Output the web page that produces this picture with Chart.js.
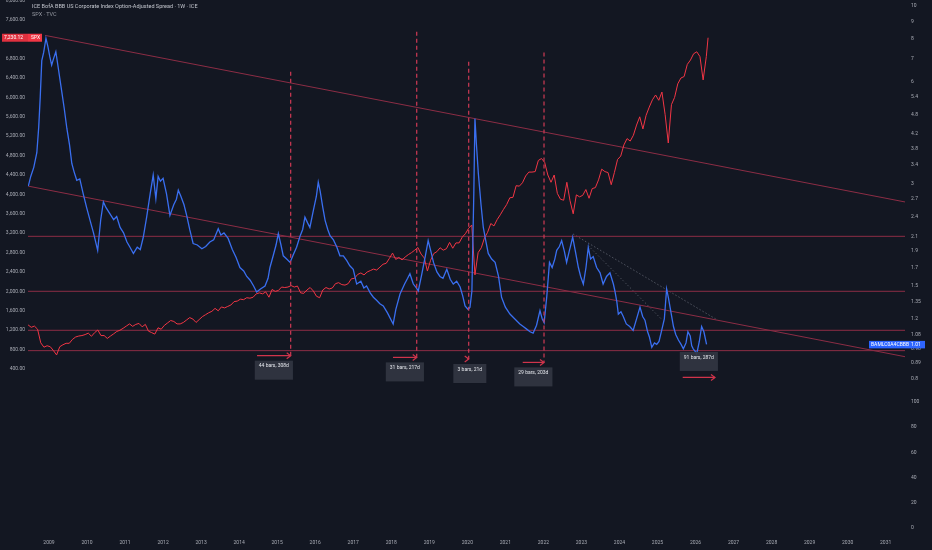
<!DOCTYPE html>
<html>
<head>
<meta charset="utf-8">
<script src="https://cdn.jsdelivr.net/npm/chart.js@4.4.1/dist/chart.umd.min.js"></script>
<style>
  html, body { margin: 0; padding: 0; background: #131722; }
  #wrap { position: relative; width: 932px; height: 550px; overflow: hidden; }
  #top { position: absolute; left: 0; top: 0; }
  #bottom { position: absolute; left: 0; top: 389px; }
</style>
</head>
<body>
<div id="wrap">
  <canvas id="top" width="932" height="389"></canvas>
  <canvas id="bottom" width="932" height="161"></canvas>
</div>
<script>
// ---------------------------------------------------------------------------
// Data
// ---------------------------------------------------------------------------
const X_MIN = 2008.448;
const X_MAX = 2031.508;

const yearTicks = [2009, 2010, 2011, 2012, 2013, 2014, 2015, 2016, 2017, 2018, 2019, 2020,
    2021, 2022, 2023, 2024, 2025, 2026, 2027, 2028, 2029, 2030, 2031];
const spxTicks = [400, 800, 1200, 1600, 2000, 2400, 2800, 3200, 3600, 4000, 4400, 4800,
    5200, 5600, 6000, 6400, 6800, 7200, 7600, 8000];
const oasTicks = [0.8, 0.89, 0.98, 1.08, 1.2, 1.35, 1.5, 1.7, 1.9, 2.1, 2.4, 2.7, 3, 3.4,
    3.8, 4.2, 4.8, 5.4, 6, 7, 8, 9, 10];
const paneTicks = [0, 20, 40, 60, 80, 100];

// SPX, one value per month from June 2008
const spxStart = 2008.45;
const spxMonthly = [
    1310, 1260, 1285, 1220, 940, 850, 880,
    860, 780, 690, 860, 900, 930, 930, 1010, 1060, 1080, 1090, 1110,
    1140, 1075, 1150, 1205, 1090, 1090, 1030, 1080, 1125, 1175, 1200, 1240,
    1285, 1330, 1280, 1320, 1340, 1270, 1320, 1180, 1150, 1120, 1250, 1220,
    1300, 1350, 1400, 1380, 1330, 1330, 1360, 1410, 1460, 1430, 1360, 1420,
    1480, 1520, 1560, 1590, 1650, 1600, 1680, 1660, 1690, 1720, 1790, 1800,
    1840, 1830, 1870, 1860, 1880, 1950, 1970, 1950, 1990, 1880, 2040, 2000,
    2020, 2090, 2080, 2090, 2120, 2090, 2110, 1970, 1960, 2030, 2080, 2010,
    1900, 1870, 2030, 2080, 2050, 2070, 2160, 2180, 2140, 2130, 2160, 2260,
    2270, 2350, 2380, 2340, 2400, 2430, 2460, 2440, 2500, 2560, 2580, 2680,
    2790, 2660, 2700, 2650, 2710, 2760, 2800, 2850, 2905, 2770, 2690, 2420,
    2640, 2780, 2820, 2900, 2850, 2880, 3010, 2890, 3000, 3000, 3120, 3190,
    3300, 3370, 2340, 2800, 2900, 3100, 3220, 3400, 3350, 3480, 3580, 3690,
    3790, 3930, 3940, 4180, 4170, 4240, 4380, 4460, 4460, 4470, 4700, 4740,
    4660, 4400, 4250, 4400, 4020, 3900, 3880, 4250, 3870, 3600, 3990, 3950,
    3980, 4100, 3920, 4120, 4140, 4300, 4520, 4470, 4450, 4200, 4450, 4720,
    4790, 5020, 5150, 5100, 5220, 5430, 5600, 5350, 5630, 5800, 5950, 6050,
    5940, 6110, 5650, 5060, 5850, 6000, 6280, 6400, 6430, 6680, 6770, 6900,
    6940, 6840, 6360, 6840
];
const spxLast = [2026.33, 7230.12];

// ICE BofA BBB OAS (%)
const oasDates = [
    2008.456, 2008.52, 2008.60, 2008.68, 2008.73, 2008.77, 2008.81, 2008.86, 2008.92, 2008.97,
    2009.02, 2009.07, 2009.12, 2009.18, 2009.25, 2009.33, 2009.40, 2009.47, 2009.54, 2009.60,
    2009.66, 2009.73, 2009.81, 2009.90, 2009.99, 2010.08, 2010.17, 2010.28, 2010.36, 2010.43,
    2010.50, 2010.60, 2010.70, 2010.78, 2010.87, 2010.96, 2011.05, 2011.13, 2011.22, 2011.32,
    2011.40, 2011.48, 2011.57, 2011.66, 2011.74, 2011.81, 2011.87, 2011.93, 2012.00, 2012.09,
    2012.18, 2012.28, 2012.35, 2012.40, 2012.47, 2012.55, 2012.62, 2012.70, 2012.79, 2012.90,
    2013.02, 2013.12, 2013.23, 2013.33, 2013.45, 2013.52, 2013.60, 2013.71, 2013.82, 2013.92,
    2014.02, 2014.12, 2014.20, 2014.29, 2014.38, 2014.46, 2014.56, 2014.68, 2014.76, 2014.81,
    2014.90, 2014.97, 2015.03, 2015.10, 2015.16, 2015.25, 2015.34, 2015.42, 2015.51, 2015.60,
    2015.67, 2015.73, 2015.80, 2015.86, 2015.95, 2016.03, 2016.08, 2016.13, 2016.20, 2016.26,
    2016.33, 2016.39, 2016.48, 2016.57, 2016.65, 2016.74, 2016.83, 2016.91, 2017.00, 2017.09,
    2017.20, 2017.28, 2017.35, 2017.45, 2017.53, 2017.62, 2017.70, 2017.79, 2017.90, 2018.05,
    2018.12, 2018.23, 2018.35, 2018.43, 2018.49, 2018.58, 2018.66, 2018.71, 2018.80, 2018.90,
    2018.97, 2019.04, 2019.11, 2019.20, 2019.28, 2019.36, 2019.46, 2019.55, 2019.63, 2019.72,
    2019.81, 2019.88, 2019.94, 2020.02, 2020.07, 2020.12, 2020.17, 2020.20, 2020.24, 2020.29,
    2020.36, 2020.42, 2020.48, 2020.55, 2020.64, 2020.73, 2020.82, 2020.90, 2021.00, 2021.12,
    2021.25, 2021.38, 2021.47, 2021.56, 2021.65, 2021.73, 2021.82, 2021.91, 2021.97, 2022.02,
    2022.09, 2022.16, 2022.23, 2022.30, 2022.35, 2022.42, 2022.48, 2022.55, 2022.61, 2022.68,
    2022.73, 2022.77, 2022.84, 2022.92, 2022.98, 2023.05, 2023.12, 2023.18, 2023.24, 2023.31,
    2023.40, 2023.49, 2023.57, 2023.66, 2023.75, 2023.84, 2023.88, 2023.93, 2023.97, 2024.04,
    2024.10, 2024.18, 2024.27, 2024.36, 2024.45, 2024.54, 2024.61, 2024.67, 2024.74, 2024.79,
    2024.85, 2024.92, 2024.98, 2025.04, 2025.11, 2025.18, 2025.24, 2025.29, 2025.33, 2025.42,
    2025.48, 2025.55, 2025.62, 2025.68, 2025.75, 2025.80, 2025.86, 2025.90, 2025.94, 2026.00,
    2026.03, 2026.10, 2026.16, 2026.22, 2026.29
];
const oasValues = [
    2.95, 3.15, 3.35, 3.70, 4.40, 5.40, 6.90, 7.30, 8.03, 7.60,
    7.10, 6.70, 7.00, 7.33, 6.50, 5.65, 5.00, 4.36, 3.90, 3.44,
    3.25, 3.07, 3.10, 2.80, 2.55, 2.34, 2.15, 1.91, 2.35, 2.65,
    2.55, 2.45, 2.35, 2.40, 2.23, 2.15, 2.02, 1.95, 1.87, 1.95,
    1.92, 2.09, 2.40, 2.80, 3.18, 2.71, 3.15, 3.05, 3.11, 2.80,
    2.42, 2.60, 2.70, 2.87, 2.75, 2.60, 2.42, 2.20, 2.00, 1.98,
    1.93, 1.96, 2.02, 2.05, 2.21, 2.12, 2.15, 2.07, 1.92, 1.82,
    1.70, 1.66, 1.60, 1.56, 1.50, 1.44, 1.47, 1.50, 1.58, 1.70,
    1.85, 1.98, 2.14, 1.98, 1.84, 1.80, 1.76, 1.85, 1.95, 2.10,
    2.20, 2.39, 2.30, 2.23, 2.50, 2.75, 3.03, 2.85, 2.55, 2.34,
    2.20, 2.11, 2.05, 1.95, 1.84, 1.84, 1.78, 1.72, 1.68, 1.52,
    1.55, 1.48, 1.50, 1.43, 1.39, 1.36, 1.33, 1.31, 1.25, 1.16,
    1.28, 1.42, 1.52, 1.58, 1.63, 1.52, 1.48, 1.45, 1.62, 1.85,
    2.04, 1.90, 1.76, 1.65, 1.60, 1.58, 1.68, 1.57, 1.52, 1.55,
    1.49, 1.40, 1.31, 1.28, 1.30, 1.45, 2.80, 4.66, 3.90, 3.21,
    2.60, 2.23, 2.05, 1.87, 1.80, 1.76, 1.60, 1.39, 1.30, 1.24,
    1.20, 1.16, 1.14, 1.12, 1.10, 1.09, 1.15, 1.27, 1.20, 1.17,
    1.40, 1.76, 1.70, 1.80, 1.91, 1.96, 2.04, 1.90, 1.76, 1.90,
    2.00, 2.09, 1.90, 1.70, 1.60, 1.52, 1.70, 1.95, 1.80, 1.83,
    1.70, 1.64, 1.52, 1.60, 1.64, 1.52, 1.45, 1.35, 1.24, 1.26,
    1.22, 1.16, 1.14, 1.11, 1.20, 1.30, 1.22, 1.19, 1.10, 1.06,
    0.99, 1.02, 1.01, 1.03, 1.11, 1.20, 1.47, 1.38, 1.30, 1.14,
    1.08, 1.04, 1.01, 0.98, 1.02, 1.10, 1.07, 1.00, 0.98, 0.96,
    0.945, 1.03, 1.14, 1.10, 1.01
];

// Drawings on the OAS scale
const levelLines = [2.1, 1.447, 1.111, 0.968];
const channelTop = [[2008.90, 8.19], [2031.51, 2.65]];
const channelBottom = [[2008.456, 2.95], [2031.51, 0.929]];
const dotLineA = [[2022.787, 2.131], [2026.539, 1.198]];
const dotLineB = [[2023.181, 1.970], [2025.119, 1.194]];

// Date ranges
const rangeStart = [2014.47, 2018.046, 2019.99, 2021.456, 2025.663];
const rangeEnd = [2015.355, 2018.669, 2020.036, 2022.016, 2026.512];
const rangeLevel = [0.9355, 0.9247, 0.9147, 0.8939, 0.8074];
const rangeText = ['44 bars, 308d', '31 bars, 217d', '3 bars, 21d', '29 bars, 203d', '91 bars, 287d'];
const markerTop = [6.40, 8.40, 6.85, 7.30, null];

// ---------------------------------------------------------------------------
// Styles
// ---------------------------------------------------------------------------
const TXT = '#a9acb5';
const BLUE = '#3a6ff0';
const RED = '#f23645';
const DRAW_RED = '#8c2d45';
const FONT = "Roboto, 'Liberation Sans', sans-serif";

function fmtPrice(v) {
    return v.toLocaleString('en-US', { minimumFractionDigits: 2, maximumFractionDigits: 2 });
}

function seg(pair) {
    return pair.map(p => ({ x: p[0], y: p[1] }));
}

function lineDs(data, color, extra) {
    return Object.assign({
        data,
        yAxisID: 'yR',
        borderColor: color,
        borderWidth: 1,
        pointRadius: 0,
        tension: 0,
        fill: false,
    }, extra || {});
}

// axis helpers: fixed ticks and range, fixed thickness, no label padding
function setTicks(values, min, max) {
    return s => {
        s.ticks = values.map(v => ({ value: v }));
        s.min = min;
        s.max = max;
    };
}
function fixV(width) {
    return s => { s.width = width; s.paddingTop = 0; s.paddingBottom = 0; };
}
function fixH(height) {
    return s => { s.height = height; s.paddingLeft = 0; s.paddingRight = 0; };
}

// ---------------------------------------------------------------------------
// Datasets
// ---------------------------------------------------------------------------
const spxData = spxMonthly.map((v, i) => ({ x: spxStart + i / 12, y: v }))
    .concat([{ x: spxLast[0], y: spxLast[1] }]);
const oasData = oasDates.map((t, i) => ({ x: t, y: oasValues[i] }));

const datasets = [];
levelLines.forEach(v => {
    datasets.push(lineDs([{ x: X_MIN, y: v }, { x: X_MAX, y: v }], DRAW_RED, { order: 6 }));
});
datasets.push(lineDs(seg(channelTop), DRAW_RED, { order: 6 }));
datasets.push(lineDs(seg(channelBottom), DRAW_RED, { order: 6 }));
datasets.push(lineDs(seg(dotLineA), 'rgba(150,154,166,0.7)', { order: 6, borderDash: [1, 2.5] }));
datasets.push(lineDs(seg(dotLineB), 'rgba(150,154,166,0.6)', { order: 6, borderDash: [1, 2.5] }));

datasets.push({
    label: 'SPX', data: spxData, yAxisID: 'yL', borderColor: RED, borderWidth: 1,
    pointRadius: 0, tension: 0, fill: false, order: 3,
});
datasets.push({
    label: 'BAMLC0A4CBBB', data: oasData, yAxisID: 'yR', borderColor: BLUE, borderWidth: 1.3,
    pointRadius: 0, tension: 0, fill: false, order: 2,
});

rangeEnd.forEach((t, i) => {
    if (markerTop[i] != null) {
        datasets.push(lineDs([{ x: t, y: markerTop[i] }, { x: t, y: rangeLevel[i] }], '#cf3a55',
            { order: 1, borderWidth: 1.2, borderDash: [4, 3] }));
    }
    datasets.push(lineDs([{ x: rangeStart[i], y: rangeLevel[i] }, { x: t, y: rangeLevel[i] }], '#d0344b',
        { order: 1, borderWidth: 1.2, arrowHead: true }));
});

// ---------------------------------------------------------------------------
// Overlay: arrows, range labels, price tags, legend text
// ---------------------------------------------------------------------------
const overlay = {
    id: 'overlay',
    afterDraw(chart) {
        const ctx = chart.ctx;
        const xs = chart.scales.x, yR = chart.scales.yR, yL = chart.scales.yL;
        const area = chart.chartArea;
        ctx.save();

        // arrow heads
        chart.data.datasets.forEach((ds, i) => {
            if (!ds.arrowHead) return;
            const pts = chart.getDatasetMeta(i).data;
            const p = pts[pts.length - 1];
            ctx.strokeStyle = ds.borderColor;
            ctx.lineWidth = 1.2;
            ctx.beginPath();
            ctx.moveTo(p.x - 4, p.y - 3);
            ctx.lineTo(p.x, p.y);
            ctx.lineTo(p.x - 4, p.y + 3);
            ctx.stroke();
        });

        // date range labels
        ctx.font = '5px ' + FONT;
        ctx.textAlign = 'center';
        ctx.textBaseline = 'middle';
        rangeText.forEach((txt, i) => {
            const cx = (xs.getPixelForValue(rangeStart[i]) + xs.getPixelForValue(rangeEnd[i])) / 2 + (i === 2 ? 2 : 0);
            const ay = yR.getPixelForValue(rangeLevel[i]);
            const w = Math.max(33, ctx.measureText(txt).width + 8);
            const h = 19;
            const top = i === 4 ? ay - 6.5 - h : ay + 5;
            ctx.fillStyle = 'rgba(50,54,66,0.92)';
            ctx.fillRect(cx - w / 2, top, w, h);
            ctx.fillStyle = '#e4e6eb';
            ctx.fillText(txt, cx, top + 5.5);
        });

        // SPX price tag (left scale)
        const sy = yL.getPixelForValue(spxLast[1]);
        ctx.fillStyle = '#e0313f';
        ctx.fillRect(2, sy - 4, 26, 8);
        ctx.fillStyle = RED;
        ctx.fillRect(28, sy - 4, 14, 8);
        ctx.fillStyle = '#ffffff';
        ctx.textAlign = 'left';
        ctx.fillText(fmtPrice(spxLast[1]), 4, sy + 0.3);
        ctx.fillText('SPX', 31, sy + 0.3);

        // OAS price tag (right scale)
        const lastOas = oasValues[oasValues.length - 1];
        const oy = yR.getPixelForValue(lastOas);
        ctx.fillStyle = '#2962ff';
        ctx.fillRect(area.right - 36, oy - 3.5, 36, 7.5);
        ctx.fillStyle = '#2f66ff';
        ctx.fillRect(area.right, oy - 3.5, 20, 7.5);
        ctx.fillStyle = '#ffffff';
        ctx.fillText('BAMLC0A4CBBB', area.right - 34, oy + 0.3);
        ctx.fillText(lastOas.toFixed(2), area.right + 6, oy + 0.3);

        // legend lines
        ctx.font = '5.5px ' + FONT;
        ctx.fillStyle = '#c3c6ce';
        ctx.fillText('ICE BofA BBB US Corporate Index Option-Adjusted Spread · 1W · ICE', 32, 7);
        ctx.fillStyle = '#9598a1';
        ctx.fillText('SPX · TVC', 32, 15);
        ctx.restore();
    }
};

// ---------------------------------------------------------------------------
// Charts
// ---------------------------------------------------------------------------
const tickFont = { family: FONT, size: 5 };

new Chart(document.getElementById('top'), {
    type: 'line',
    data: { datasets },
    options: {
        responsive: false,
        animation: false,
        events: [],
        layout: { padding: 0 },
        plugins: { legend: { display: false }, tooltip: { enabled: false } },
        scales: {
            x: { type: 'linear', min: X_MIN, max: X_MAX, display: false },
            yL: {
                type: 'linear', position: 'left', min: -12, max: 8008,
                grid: { display: false, drawTicks: false }, border: { display: false },
                ticks: { color: TXT, font: tickFont, padding: 3, autoSkip: false, callback: v => fmtPrice(v) },
                afterBuildTicks: setTicks(spxTicks, -12, 8008),
                afterFit: fixV(28),
            },
            yR: {
                type: 'logarithmic', position: 'right', min: 0.7465, max: 10.41,
                grid: { display: false, drawTicks: false }, border: { display: false },
                ticks: { color: TXT, font: tickFont, padding: 6, autoSkip: false, callback: v => String(v) },
                afterBuildTicks: setTicks(oasTicks, 0.7465, 10.41),
                afterFit: fixV(27),
            },
        },
    },
    plugins: [overlay],
});

new Chart(document.getElementById('bottom'), {
    type: 'line',
    data: { datasets: [{ data: [], yAxisID: 'yP', pointRadius: 0 }] },
    options: {
        responsive: false,
        animation: false,
        events: [],
        layout: { padding: { left: 28 } },
        plugins: { legend: { display: false }, tooltip: { enabled: false } },
        scales: {
            x: {
                type: 'linear', min: X_MIN, max: X_MAX,
                grid: { display: false, drawTicks: false }, border: { display: false },
                ticks: { color: TXT, font: tickFont, padding: 5, autoSkip: false, maxRotation: 0, callback: v => String(v) },
                afterBuildTicks: setTicks(yearTicks, X_MIN, X_MAX),
                afterFit: fixH(15),
            },
            yP: {
                type: 'linear', position: 'right', min: -5.56, max: 110.32,
                grid: { display: false, drawTicks: false }, border: { display: false },
                ticks: { color: TXT, font: tickFont, padding: 6, autoSkip: false },
                afterBuildTicks: setTicks(paneTicks, -5.56, 110.32),
                afterFit: fixV(27),
            },
        },
    },
});
</script>
</body>
</html>
